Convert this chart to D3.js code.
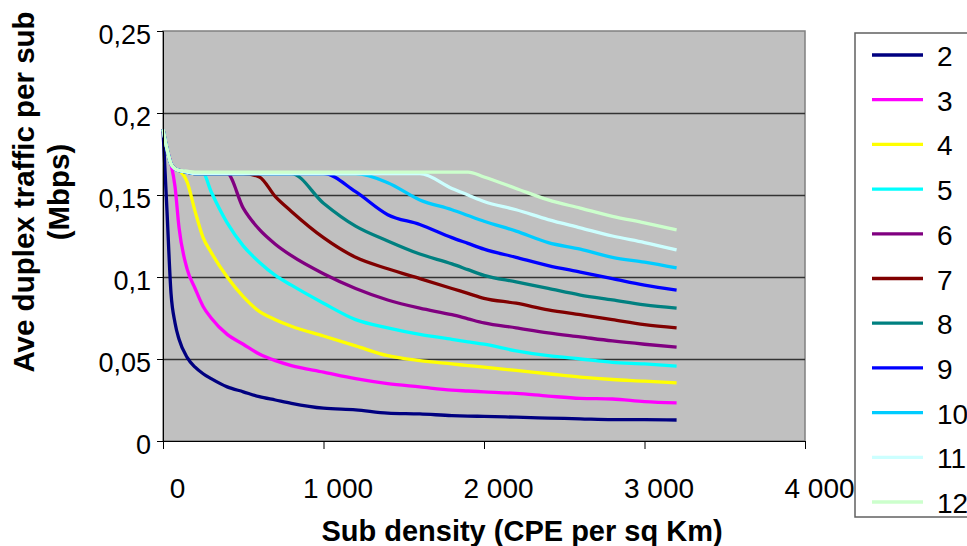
<!DOCTYPE html>
<html>
<head>
<meta charset="utf-8">
<script src="https://cdn.jsdelivr.net/npm/d3@7"></script>
<style>
body { margin: 0; background: #fff; }
text { font-family: 'Liberation Sans', Arial, sans-serif; fill: #000; }
</style>
</head>
<body>
<svg width="967" height="546"></svg>
<script>
// sub density (CPE per sq km), shared by all series
const density = [0, 25, 50, 75, 100, 150, 200, 250, 300, 400, 500, 600, 700, 800,
	1000, 1200, 1400, 1600, 1800, 1900, 2000, 2200, 2400, 2600, 2800, 3000, 3200];

// average duplex traffic per sub (Mbps), one array per series
const traffic2 = [0.19, 0.14, 0.09, 0.072, 0.062, 0.051, 0.045, 0.041, 0.038, 0.033, 0.030, 0.027, 0.025, 0.023,
	0.020, 0.019, 0.017, 0.0165, 0.0155, 0.0152, 0.015, 0.0145, 0.014, 0.0135, 0.013, 0.013, 0.0128];
const traffic3 = [0.19, 0.178, 0.169, 0.155, 0.130, 0.105, 0.093, 0.082, 0.075, 0.065, 0.059, 0.053, 0.049, 0.046,
	0.042, 0.038, 0.035, 0.033, 0.031, 0.0305, 0.030, 0.029, 0.0274, 0.026, 0.0256, 0.024, 0.0232];
const traffic4 = [0.19, 0.178, 0.169, 0.166, 0.165, 0.158, 0.140, 0.124, 0.115, 0.100, 0.088, 0.079, 0.074, 0.070,
	0.064, 0.058, 0.052, 0.049, 0.047, 0.046, 0.045, 0.043, 0.041, 0.039, 0.0375, 0.0365, 0.0354];
const traffic5 = [0.19, 0.178, 0.169, 0.166, 0.165, 0.164, 0.163, 0.163, 0.152, 0.133, 0.119, 0.109, 0.101, 0.095,
	0.084, 0.074, 0.069, 0.065, 0.062, 0.0605, 0.059, 0.055, 0.052, 0.050, 0.048, 0.047, 0.0457];
const traffic6 = [0.19, 0.178, 0.169, 0.166, 0.165, 0.164, 0.163, 0.163, 0.163, 0.163, 0.142, 0.129, 0.120, 0.113,
	0.102, 0.093, 0.086, 0.081, 0.077, 0.0745, 0.072, 0.069, 0.066, 0.0635, 0.061, 0.059, 0.0573];
const traffic7 = [0.19, 0.178, 0.169, 0.166, 0.165, 0.164, 0.163, 0.163, 0.163, 0.163, 0.163, 0.161, 0.149, 0.140,
	0.124, 0.112, 0.105, 0.099, 0.093, 0.090, 0.087, 0.084, 0.080, 0.077, 0.074, 0.071, 0.069];
const traffic8 = [0.19, 0.178, 0.169, 0.166, 0.165, 0.164, 0.163, 0.163, 0.163, 0.163, 0.163, 0.163, 0.163, 0.163,
	0.145, 0.131, 0.122, 0.114, 0.108, 0.1045, 0.101, 0.097, 0.093, 0.089, 0.086, 0.083, 0.081];
const traffic9 = [0.19, 0.178, 0.169, 0.166, 0.165, 0.164, 0.163, 0.163, 0.163, 0.163, 0.163, 0.163, 0.163, 0.163,
	0.163, 0.152, 0.138, 0.132, 0.124, 0.1205, 0.117, 0.112, 0.107, 0.103, 0.099, 0.095, 0.092];
const traffic10 = [0.19, 0.178, 0.169, 0.166, 0.165, 0.164, 0.163, 0.163, 0.163, 0.163, 0.163, 0.163, 0.163, 0.163,
	0.163, 0.163, 0.1575, 0.147, 0.141, 0.1375, 0.134, 0.128, 0.121, 0.117, 0.112, 0.109, 0.1055];
const traffic11 = [0.19, 0.178, 0.169, 0.166, 0.165, 0.164, 0.163, 0.163, 0.163, 0.163, 0.163, 0.163, 0.163, 0.163,
	0.163, 0.163, 0.163, 0.163, 0.154, 0.150, 0.146, 0.141, 0.135, 0.130, 0.125, 0.121, 0.1165];
const traffic12 = [0.19, 0.178, 0.169, 0.166, 0.165, 0.1645, 0.164, 0.164, 0.164, 0.164, 0.164, 0.164, 0.164, 0.164,
	0.164, 0.164, 0.164, 0.164, 0.164, 0.164, 0.161, 0.154, 0.147, 0.142, 0.137, 0.133, 0.1287];

const seriesNames = ['2', '3', '4', '5', '6', '7', '8', '9', '10', '11', '12'];
const seriesValues = [traffic2, traffic3, traffic4, traffic5, traffic6, traffic7,
	traffic8, traffic9, traffic10, traffic11, traffic12];
const colors = ['#000080', '#ff00ff', '#ffff00', '#00ffff', '#800080', '#800000',
	'#008080', '#0000ff', '#00ccff', '#ccffff', '#ccffcc'];

const xTicks = [0, 1000, 2000, 3000, 4000];
const xTickLabels = ['0', '1 000', '2 000', '3 000', '4 000'];
const yTicks = [0, 0.05, 0.1, 0.15, 0.2, 0.25];
const yTickLabels = ['0', '0,05', '0,1', '0,15', '0,2', '0,25'];

const svg = d3.select('svg');

const margin = {top: 31, left: 163};
const innerWidth = 642;
const innerHeight = 410;

const xScale = d3.scaleLinear()
	.domain([0, 4000])
	.range([0, innerWidth]);

const yScale = d3.scaleLinear()
	.domain([0, 0.25])
	.range([innerHeight, 0]);

const g = svg.append('g')
	.attr('transform', `translate(${margin.left}, ${margin.top})`);

g.append('rect')
	.attr('width', innerWidth)
	.attr('height', innerHeight)
	.attr('fill', '#c0c0c0')
	.attr('stroke', '#808080')
	.attr('stroke-width', 1.5);

// gridlines
const gridG = g.append('g')
	.call(d3.axisLeft(yScale).tickValues(yTicks.slice(1, -1)).tickSize(-innerWidth).tickFormat(''));
gridG.select('.domain').remove();
gridG.selectAll('line')
	.attr('stroke', '#333')
	.attr('stroke-width', 1.5);

const lineGenerator = d3.line()
	.x(d => xScale(d[0]))
	.y(d => yScale(d[1]))
	.curve(d3.curveMonotoneX);

seriesValues.forEach((values, i) => {
	g.append('path')
		.attr('d', lineGenerator(density.map((d, j) => [d, values[j]])))
		.attr('fill', 'none')
		.attr('stroke', colors[i])
		.attr('stroke-width', 3.3)
		.attr('stroke-linejoin', 'round');
});

const yAxisG = g.append('g')
	.call(d3.axisLeft(yScale).tickValues(yTicks).tickSize(6).tickPadding(6)
		.tickFormat((d, i) => yTickLabels[i]));
yAxisG.selectAll('text')
	.attr('font-size', 27)
	.attr('font-family', null)
	.attr('dy', '0.48em');
yAxisG.selectAll('line, .domain').attr('stroke', '#000');

const xAxisG = g.append('g')
	.attr('transform', `translate(0, ${innerHeight})`)
	.call(d3.axisBottom(xScale).tickValues(xTicks).tickSize(8)
		.tickFormat((d, i) => xTickLabels[i]));
xAxisG.selectAll('text')
	.attr('font-size', 28)
	.attr('font-family', null)
	.attr('y', 57)
	.attr('dy', 0)
	.attr('dx', 14);
xAxisG.selectAll('line, .domain').attr('stroke', '#000');

// axis titles
svg.append('text')
	.attr('x', 522)
	.attr('y', 541)
	.attr('text-anchor', 'middle')
	.attr('font-size', 29)
	.attr('font-weight', 'bold')
	.text('Sub density (CPE per sq Km)');

const yTitle = svg.append('g')
	.attr('transform', 'translate(0, 192) rotate(-90)')
	.attr('text-anchor', 'middle')
	.attr('font-size', 29.5)
	.attr('font-weight', 'bold');
yTitle.append('text').attr('y', 34).text('Ave duplex traffic per sub');
yTitle.append('text').attr('y', 69).text('(Mbps)');

// legend
const legend = svg.append('g')
	.attr('transform', 'translate(855, 33)');
legend.append('rect')
	.attr('width', 200)
	.attr('height', 484)
	.attr('fill', '#fff')
	.attr('stroke', '#606060')
	.attr('stroke-width', 1.5);

const items = legend.selectAll('g.item')
	.data(seriesNames)
	.enter().append('g')
	.attr('class', 'item')
	.attr('transform', (d, i) => `translate(0, ${22 + i * 44.7})`);
items.append('line')
	.attr('x1', 17)
	.attr('x2', 68)
	.attr('stroke', (d, i) => colors[i])
	.attr('stroke-width', 3.3);
items.append('text')
	.attr('x', 82)
	.attr('y', 11)
	.attr('font-size', 28)
	.text(d => d);
</script>
</body>
</html>
